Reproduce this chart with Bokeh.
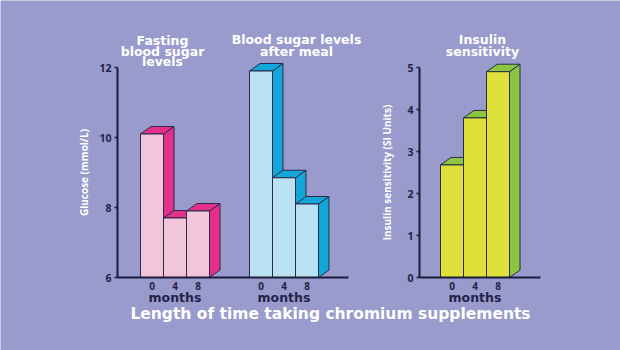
from bokeh.plotting import figure
from bokeh.models import Range1d, LinearAxis, FixedTicker, ColumnDataSource
from bokeh.core.properties import value
from bokeh.embed import file_html
from bokeh.resources import INLINE

# ---------------- data ----------------
months = ["0", "4", "8"]
fasting_glucose = [10.1, 7.7, 7.9]
after_meal_glucose = [11.9, 8.85, 8.1]
insulin_sensitivity = [2.68, 3.8, 4.9]
glucose_ticks = [6, 8, 10, 12]
insulin_ticks = [0, 1, 2, 3, 4, 5]
fasting_title = ["Fasting", "blood sugar", "levels"]
after_meal_title = ["Blood sugar levels", "after meal"]
insulin_title = ["Insulin", "sensitivity"]
month_word = "months"
x_title = "Length of time taking chromium supplements"
glucose_label = "Glucose (mmol/L)"
insulin_label = "Insulin sensitivity (SI Units)"

# ---------------- layout / style ----------------
W, H = 620, 350
SLOT = 23.0            # px per bar
TOP_PX, BOT_PX = 67.0, 277.0
G_MIN, G_MAX = 6, 12
I_MIN, I_MAX = 0, 5
DEPTH_X, DEPTH_Y = 10.5, 7.5

BG = "#999bcc"
AX = "#1b1b3a"
EDGE = "#2a2a48"
DARK_TXT = "#23234a"
FONT = "Open Sans"
WIDE = "DejaVu Sans"

g_pp = (G_MAX - G_MIN) / (BOT_PX - TOP_PX)
i_pp = (I_MAX - I_MIN) / (BOT_PX - TOP_PX)


def xs(px):
    return px / SLOT


def gy(px):
    return G_MAX - (px - TOP_PX) * g_pp


p = figure(width=W, height=H, output_backend="svg", toolbar_location=None,
           x_axis_location=None, y_axis_location=None,
           x_range=Range1d(0, W / SLOT),
           y_range=Range1d(G_MIN - (H - BOT_PX) * g_pp, G_MAX + TOP_PX * g_pp))
p.extra_y_ranges = {"ins": Range1d(I_MIN - (H - BOT_PX) * i_pp, I_MAX + TOP_PX * i_pp)}
p.min_border = 0
p.background_fill_color = BG
p.border_fill_color = BG
p.outline_line_color = None
p.grid.visible = False

groups = [
    (140, fasting_glucose, "default", G_MIN, g_pp, "#f2c5da", "#e5308b"),
    (249, after_meal_glucose, "default", G_MIN, g_pp, "#b9e1f1", "#13a6d9"),
    (440, insulin_sensitivity, "ins", I_MIN, i_pp, "#dfe03a", "#8cc540"),
]

for start_px, vals, rname, base, pp, front_c, side_c in groups:
    dx = DEPTH_X / SLOT
    dy = DEPTH_Y * pp
    pxs, pys, cols = [], [], []
    for i, v in enumerate(vals):
        x0 = xs(start_px) + i
        x1 = x0 + 1
        pxs.append([x1, x1 + dx, x1 + dx, x1]); pys.append([base, base + dy, v + dy, v]); cols.append(side_c)
        pxs.append([x0, x1, x1 + dx, x0 + dx]); pys.append([v, v, v + dy, v + dy]); cols.append(side_c)
        pxs.append([x0, x1, x1, x0]); pys.append([base, base, v, v]); cols.append(front_c)
    src = ColumnDataSource(dict(xs=pxs, ys=pys, c=cols))
    p.patches("xs", "ys", source=src, fill_color="c", line_color=EDGE, line_width=1,
              line_join="round", y_range_name=rname)

# ---------------- axes ----------------
def style_y(ax, label_standoff):
    ax.axis_line_color = AX
    ax.axis_line_width = 2
    ax.major_tick_line_color = AX
    ax.major_tick_line_width = 1.5
    ax.major_tick_out = 3
    ax.major_tick_in = 0
    ax.minor_tick_line_color = None
    ax.major_label_text_font = FONT
    ax.major_label_text_font_style = "bold"
    ax.major_label_text_font_size = "10.5px"
    ax.major_label_text_color = DARK_TXT
    ax.major_label_standoff = 3
    ax.axis_label_text_font = FONT
    ax.axis_label_text_font_style = "bold"
    ax.axis_label_text_font_size = "10px"
    ax.axis_label_text_color = "white"
    ax.axis_label_standoff = label_standoff


gax = LinearAxis(fixed_location=xs(117), bounds=(G_MIN, G_MAX),
                 ticker=FixedTicker(ticks=glucose_ticks), axis_label=glucose_label)
style_y(gax, 5)
p.add_layout(gax, "left")

iax = LinearAxis(y_range_name="ins", fixed_location=xs(419), bounds=(I_MIN, I_MAX),
                 ticker=FixedTicker(ticks=insulin_ticks), axis_label=insulin_label)
style_y(iax, 10)
p.add_layout(iax, "left")


def base_axis(**kw):
    ax = LinearAxis(ticker=FixedTicker(ticks=[]), **kw)
    ax.axis_line_color = AX
    ax.axis_line_width = 2
    ax.major_tick_line_color = None
    ax.minor_tick_line_color = None
    ax.major_label_text_font_size = "0px"
    return ax


p.add_layout(base_axis(fixed_location=G_MIN, bounds=(xs(117), xs(348))), "below")
p.add_layout(base_axis(y_range_name="ins", fixed_location=I_MIN, bounds=(xs(419), xs(540))), "below")

# ---------------- texts ----------------
def txt(x, y, t, size, color, style="bold", font=FONT):
    p.text(x=x, y=y, text=t, text_align="center", text_baseline="middle",
           text_font=value(font), text_font_style=style, text_font_size=size,
           text_color=color)


for start_px, vals, *_ in groups:
    cx = [xs(start_px) + i + 0.5 for i in range(len(months))]
    txt(cx, [gy(285.5)] * len(months), months, "10px", DARK_TXT)
    txt([xs(start_px) + len(months) / 2], [gy(297)], [month_word], "12.5px", DARK_TXT, "bold", WIDE)

title_specs = [(162, [40, 51, 61], fasting_title), (296, [39, 51], after_meal_title), (482, [39, 51], insulin_title)]
for cx_px, ys_px, lines in title_specs:
    txt([xs(cx_px)] * len(lines), [gy(v) for v in ys_px], lines, "12.5px", "white", "bold", WIDE)

txt([xs(330)], [gy(313)], [x_title], "15.5px", "white", "bold", WIDE)

open("out.html", "w").write(file_html(p, INLINE))
